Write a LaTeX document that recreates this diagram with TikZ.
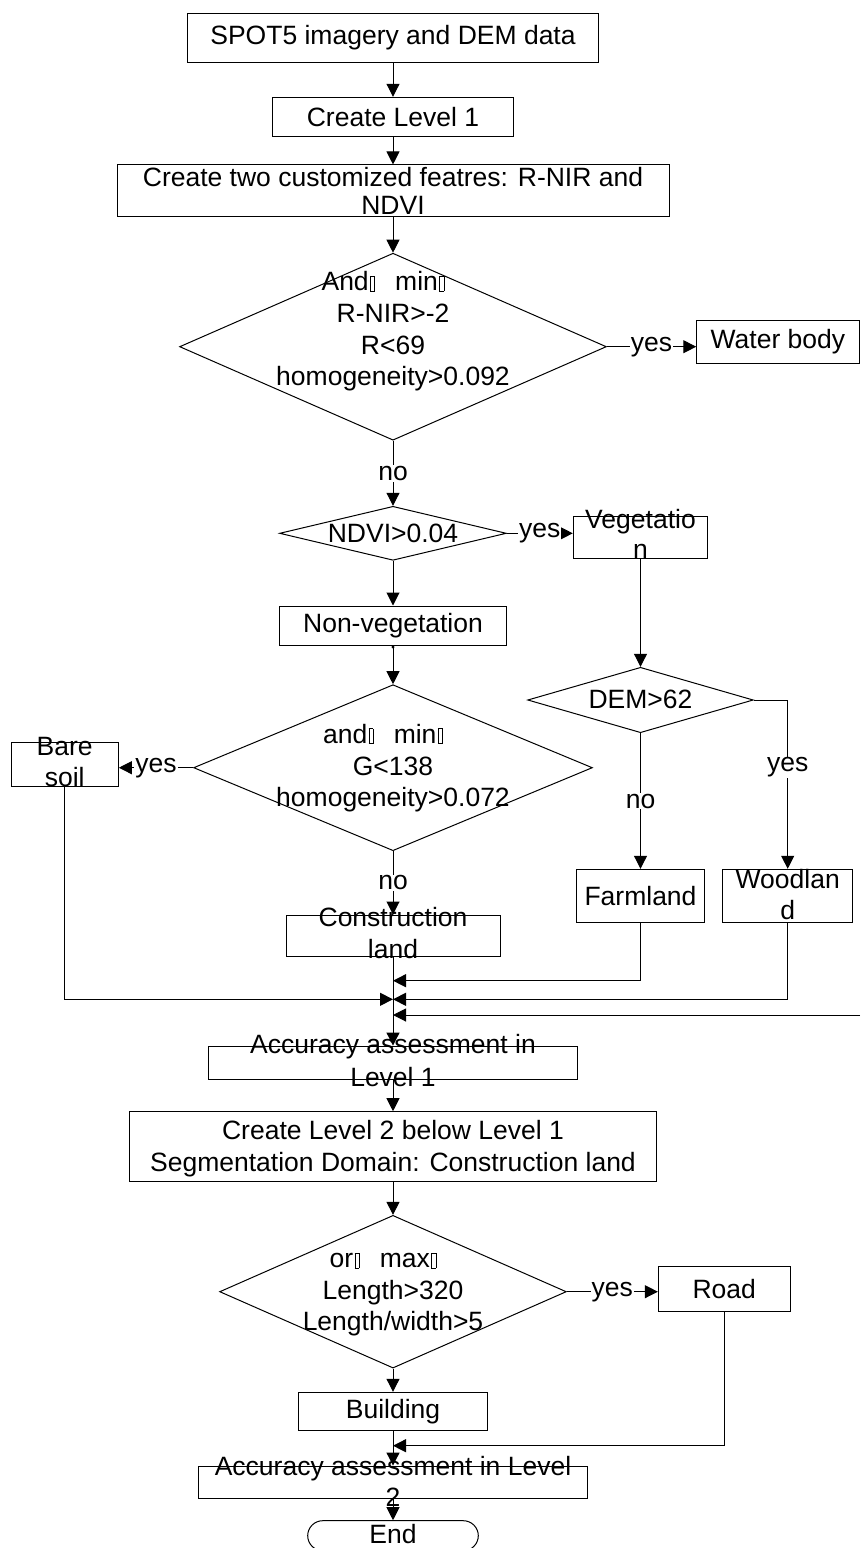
\documentclass[tikz,border=0pt]{standalone}
\usepackage{fontspec}
\setmainfont{Liberation Sans}
\usetikzlibrary{shapes.geometric,arrows.meta}
\newcommand{\gbx}{\makebox[1em][l]{\hspace{0.05em}\fboxsep=0pt\fboxrule=0.45pt\fbox{\rule{0pt}{0.55em}\hspace{0.15em}}}}
\begin{document}
\begin{tikzpicture}[x=1pt,y=-1pt,
  every node/.style={font=\fontsize{26.5}{31.7}\selectfont},
  box/.style={draw,rectangle,inner sep=0pt,line width=1pt},
  dia/.style={draw,diamond,inner sep=0pt,line width=1pt},
  txt/.style={inner sep=0pt,align=center},
  lab/.style={fill=white,inner sep=1pt},
  arr/.style={line width=1pt,-{Triangle[length=13pt,width=13pt]}},
  arrdot/.style={line width=1pt,{Circle[length=3pt]}-{Triangle[length=13pt,width=13pt]}}]
\fill[white] (0,0) rectangle (860,1548);
\useasboundingbox (0,0) rectangle (860,1548);

% boxes and decisions
\node[box,minimum width=411pt,minimum height=49pt] (b1) at (393,37.8) {SPOT5 imagery and DEM data};
\node[box,minimum width=240.6pt,minimum height=39.4pt] (b2) at (393,117) {Create Level 1};
\node[box,minimum width=552pt,minimum height=51.7pt] (b3) at (393,190.8) {};
\node[txt,font=\fontsize{26.5}{28.3}\selectfont] (b3t) at (393,191.2) {Create two customized featres: R-NIR and\\NDVI};

\node[dia,minimum width=426.8pt,minimum height=187pt] (d1) at (393,346.7) {};
\node[txt] (d1t) at (393,331.5) {And\gbx{}min\gbx\\R-NIR>-2\\R<69\\homogeneity>0.092};
\node[box,minimum width=162.3pt,minimum height=43.3pt] (wb) at (777.9,341.7) {Water body};

\node[dia,minimum width=226.8pt,minimum height=54pt] (d2) at (393,533.3) {};
\node[txt] (d2t) at (393,533.3) {NDVI>0.04};
\node[box,minimum width=134.4pt,minimum height=42.3pt] (veg) at (640.5,537.2) {};
\node[txt,font=\fontsize{26.5}{30}\selectfont] (vegt) at (640.5,533.6) {Vegetatio\\n};

\node[box,minimum width=227.4pt,minimum height=39pt] (nonveg) at (393,625.5) {Non-vegetation};

\node[dia,minimum width=398.8pt,minimum height=166pt] (d3) at (393,767.7) {};
\node[txt] (d3t) at (393,768.2) {and\gbx{}min\gbx\\G<138\\homogeneity>0.072};
\node[box,minimum width=107.3pt,minimum height=44.4pt] (bare) at (64.7,764.5) {};
\node[txt,font=\fontsize{26.5}{30.6}\selectfont] (baret) at (64.7,762.3) {Bare\\soil};

\node[dia,minimum width=225.6pt,minimum height=65.4pt] (dem) at (640.5,700) {};
\node[txt] (demt) at (640.5,699) {DEM>62};
\node[box,minimum width=128.3pt,minimum height=53.4pt] (farm) at (640.5,896) {Farmland};
\node[box,minimum width=130pt,minimum height=53.4pt] (wood) at (787.7,896) {};
\node[txt,font=\fontsize{26.5}{31}\selectfont] (woodt) at (787.7,894.2) {Woodlan\\d};

\node[box,minimum width=214pt,minimum height=41pt] (cons) at (393,935.5) {};
\node[txt] (const) at (393,932.8) {Construction\\land};

\node[box,minimum width=369pt,minimum height=33.3pt] (acc1) at (393,1062.7) {};
\node[txt,font=\fontsize{26.5}{32.5}\selectfont] (acc1t) at (393,1060.7) {Accuracy assessment in\\Level 1};

\node[box,minimum width=527.4pt,minimum height=70pt] (l2) at (393,1146.7) {};
\node[txt] (l2t) at (393,1148.3) {Create Level 2 below Level 1\\Segmentation Domain: Construction land};

\node[dia,minimum width=346.7pt,minimum height=152.7pt] (d4) at (393,1291.7) {};
\node[txt] (d4t) at (393,1294.5) {or\gbx{}max\gbx\\Length>320\\Length/width>5};
\node[box,minimum width=131.7pt,minimum height=45.7pt] (road) at (724.2,1289) {Road};

\node[box,minimum width=189.4pt,minimum height=38.4pt] (bld) at (393,1411.5) {Building};

\node[box,minimum width=389.4pt,minimum height=32.3pt] (acc2) at (393,1482.2) {};
\node[txt,font=\fontsize{26.5}{31}\selectfont] (acc2t) at (393,1480.9) {Accuracy assessment in Level\\2};

\node[box,rounded corners=15pt,minimum width=170.6pt,minimum height=30pt] (endn) at (393,1535.7) {};
\node[txt] (endt) at (393,1534.5) {End};

% junction points
\coordinate (j1) at (393,980.7);
\coordinate (j2) at (393,999.3);
\coordinate (j3) at (393,1015);
\coordinate (rin) at (860,1015);
\coordinate (j4) at (393,1445.7);

% connectors
\draw[arr] (b1.south) -- (b2.north);
\draw[arr] (b2.south) -- (b3.north);
\draw[arr] (b3.south) -- (d1.north);
\draw[arr] (d1.east) -- node[lab]{yes} (d1.east -| wb.west);
\draw[arr] (d1.south) -- node[lab]{no} (d2.north);
\draw[arr] (d2.east) -- node[lab]{yes} (d2.east -| veg.west);
\draw[arr] (d2.south) -- (nonveg.north);
\draw[arrdot] (nonveg.south) -- (d3.north);
\draw[arr] (d3.west) -- node[lab]{yes} (d3.west -| bare.east);
\draw[arr] (veg.south) -- (dem.north);
\draw[arr] (dem.south) -- node[lab]{no} (farm.north);
\draw[arr] (dem.east) -| node[lab,pos=0.70]{yes} (wood.north);
\draw[arr] (d3.south) -- node[lab]{no} (cons.north);
\draw[arr] (cons.south) -- (acc1.north);
\draw[arr] (farm.south) |- (j1);
\draw[arr] (wood.south) |- (j2);
\draw[arr] (bare.south) |- (j2);
\draw[arr] (rin) -- (j3);
\draw[arr] (acc1.south) -- (l2.north);
\draw[arr] (l2.south) -- (d4.north);
\draw[arr] (d4.east) -- node[lab]{yes} (d4.east -| road.west);
\draw[arr] (d4.south) -- (bld.north);
\draw[arr] (bld.south) -- (acc2.north);
\draw[arr] (road.south) |- (j4);
\draw[arr] (acc2.south) -- (endn.north);
\end{tikzpicture}
\end{document}
